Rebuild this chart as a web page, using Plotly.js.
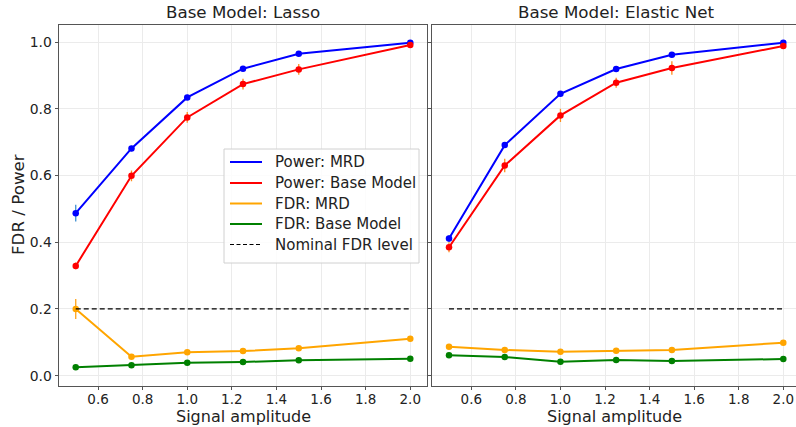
<!DOCTYPE html>
<html><head><meta charset="utf-8">
<script src="https://cdn.plot.ly/plotly-3.0.1.min.js"></script>
<style>html,body{margin:0;padding:0;overflow:hidden;background:#fff}</style>
</head><body><div id="chart" style="width:796px;height:427px"></div>
<script>
const amplitude = [0.5, 0.75, 1.0, 1.25, 1.5, 2.0];

const lassoPowerMRD = [0.487, 0.681, 0.834, 0.920, 0.965, 0.998];
const lassoPowerMRDErr = [0.025, 0.008, 0.008, 0.004, 0.004, 0.003];
const lassoPowerBase = [0.329, 0.599, 0.774, 0.874, 0.918, 0.991];
const lassoPowerBaseErr = [0.010, 0.016, 0.016, 0.016, 0.016, 0.005];
const lassoFdrMRD = [0.200, 0.057, 0.070, 0.074, 0.082, 0.111];
const lassoFdrMRDErr = [0.030, 0.005, 0.005, 0.005, 0.005, 0.005];
const lassoFdrBase = [0.025, 0.031, 0.039, 0.041, 0.046, 0.051];
const lassoFdrBaseErr = [0.004, 0.004, 0.004, 0.004, 0.004, 0.004];

const enetPowerMRD = [0.411, 0.691, 0.845, 0.919, 0.962, 0.998];
const enetPowerMRDErr = [0.010, 0.008, 0.008, 0.004, 0.004, 0.003];
const enetPowerBase = [0.385, 0.630, 0.780, 0.878, 0.922, 0.988];
const enetPowerBaseErr = [0.015, 0.020, 0.020, 0.015, 0.020, 0.005];
const enetFdrMRD = [0.087, 0.077, 0.072, 0.075, 0.077, 0.099];
const enetFdrMRDErr = [0.006, 0.006, 0.006, 0.006, 0.006, 0.006];
const enetFdrBase = [0.061, 0.056, 0.042, 0.047, 0.044, 0.050];
const enetFdrBaseErr = [0.006, 0.006, 0.006, 0.006, 0.006, 0.006];

const nominalFDR = [0.2, 0.2];
const nominalX = [0.5, 2.0];

const seriesNames = ["Power: MRD", "Power: Base Model", "FDR: MRD", "FDR: Base Model"];
const legendLabels = ["Power: MRD", "Power: Base Model", "FDR: MRD", "FDR: Base Model", "Nominal FDR level"];
const panelTitles = ["Base Model: Lasso", "Base Model: Elastic Net"];
const xTitle = "Signal amplitude";
const yTitle = "FDR / Power";
const colors = ["blue", "red", "orange", "green"];
const errColors = ["#3d8fd1", "#ff8c1a", "#ffa31a", "#3a9a3a"];

const font = "DejaVu Sans, Liberation Sans, sans-serif";

function mk(y, err, i, xa, ya) {
  return {
    x: amplitude, y: y, xaxis: xa, yaxis: ya, type: "scatter", mode: "lines+markers",
    name: seriesNames[i], showlegend: false,
    line: {color: colors[i], width: 2},
    marker: {color: colors[i], size: 6.5, symbol: "circle"},
    error_y: {type: "data", array: err, visible: true, color: errColors[i], thickness: 1.3, width: 0}
  };
}

const data = [
  mk(lassoPowerMRD, lassoPowerMRDErr, 0, "x", "y"),
  mk(lassoPowerBase, lassoPowerBaseErr, 1, "x", "y"),
  mk(lassoFdrMRD, lassoFdrMRDErr, 2, "x", "y"),
  mk(lassoFdrBase, lassoFdrBaseErr, 3, "x", "y"),
  {x: nominalX, y: nominalFDR, xaxis: "x", yaxis: "y", mode: "lines", name: "Nominal FDR level",
   line: {color: "black", width: 1.2, dash: "5px,3px"}, showlegend: false},
  mk(enetPowerMRD, enetPowerMRDErr, 0, "x2", "y2"),
  mk(enetPowerBase, enetPowerBaseErr, 1, "x2", "y2"),
  mk(enetFdrMRD, enetFdrMRDErr, 2, "x2", "y2"),
  mk(enetFdrBase, enetFdrBaseErr, 3, "x2", "y2"),
  {x: nominalX, y: nominalFDR, xaxis: "x2", yaxis: "y2", mode: "lines", name: "Nominal FDR level",
   line: {color: "black", width: 1.2, dash: "5px,3px"}, showlegend: false}
];

const tickVals = [0.6, 0.8, 1.0, 1.2, 1.4, 1.6, 1.8, 2.0];
const tickText = ["0.6", "0.8", "1.0", "1.2", "1.4", "1.6", "1.8", "2.0"];
const yTickVals = [0.0, 0.2, 0.4, 0.6, 0.8, 1.0];
const yTickText = ["0.0", "0.2", "0.4", "0.6", "0.8", "1.0"];

const axCommon = {
  showgrid: true, gridcolor: "#ebebeb", gridwidth: 1, zeroline: false,
  showline: true, mirror: true, linecolor: "#555", linewidth: 1,
  ticks: "outside", ticklen: 3.5, tickcolor: "#555",
  tickfont: {family: font, size: 13.5, color: "#222"}
};

// manual legend (matplotlib style: line samples without markers)
const W = 796, H = 427;
const px = v => v / W, py = v => 1 - v / H;
const legBox = {x0: 224, x1: 419, y0: 149, y1: 263};
const rowY = [162, 183, 203.5, 224, 244.5];
const shapes = [{type: "rect", xref: "paper", yref: "paper",
  x0: px(legBox.x0), x1: px(legBox.x1), y0: py(legBox.y0), y1: py(legBox.y1),
  fillcolor: "rgba(255,255,255,0.85)", line: {color: "#d0d0d0", width: 1}, layer: "above"}];
const annotations = [];
legendLabels.forEach((lab, i) => {
  const isNom = i === 4;
  shapes.push({type: "line", xref: "paper", yref: "paper",
    x0: px(230), x1: px(262), y0: py(rowY[i]), y1: py(rowY[i]), layer: "above",
    line: {color: isNom ? "black" : colors[i], width: isNom ? 1.2 : 2, dash: isNom ? "4px,2.5px" : "solid"}});
  annotations.push({text: lab, x: px(273), y: py(rowY[i]), xref: "paper", yref: "paper",
    xanchor: "left", yanchor: "middle", showarrow: false,
    font: {family: font, size: 15, color: "#222"}});
});
const titleFont = {family: font, size: 16.7, color: "#222"};
[[243, panelTitles[0]], [616, panelTitles[1]]].forEach(([cx, t]) => {
  annotations.push({text: t, x: px(cx), y: py(11.5), xref: "paper", yref: "paper",
    xanchor: "center", yanchor: "middle", showarrow: false, font: titleFont});
});
[243, 614].forEach(cx => {
  annotations.push({text: xTitle, x: px(cx), y: 0, xref: "paper", yref: "paper",
    xanchor: "center", yanchor: "bottom", showarrow: false, borderpad: 0,
    font: {family: font, size: 16, color: "#222"}});
});
annotations.push({text: yTitle, x: px(18), y: py(205), xref: "paper", yref: "paper", textangle: -90,
  xanchor: "center", yanchor: "middle", showarrow: false, font: titleFont});

const layout = {
  width: W, height: H,
  margin: {l: 0, r: 0, t: 0, b: 0},
  paper_bgcolor: "white", plot_bgcolor: "white",
  font: {family: font, color: "#222"},
  showlegend: false,
  xaxis: Object.assign({}, axCommon, {domain: [59/W, 427/W], range: [0.425, 2.075],
    tickvals: tickVals, ticktext: tickText, ticklabelstandoff: -2}),
  yaxis: Object.assign({}, axCommon, {domain: [1 - 385.7/H, 1 - 25/H], range: [-0.030, 1.051],
    tickvals: yTickVals, ticktext: yTickText, tickfont: {family: font, size: 13.9, color: "#222"}}),
  xaxis2: Object.assign({}, axCommon, {domain: [432.3/W, 1], range: [0.425, 2.057], anchor: "y2",
    tickvals: tickVals, ticktext: tickText, ticklabelstandoff: -2}),
  yaxis2: Object.assign({}, axCommon, {domain: [1 - 385.7/H, 1 - 25/H], range: [-0.030, 1.051], anchor: "x2",
    tickvals: yTickVals, showticklabels: false}),
  shapes: shapes,
  annotations: annotations
};

Plotly.newPlot("chart", data, layout, {displayModeBar: false, staticPlot: true});
</script></body></html>
